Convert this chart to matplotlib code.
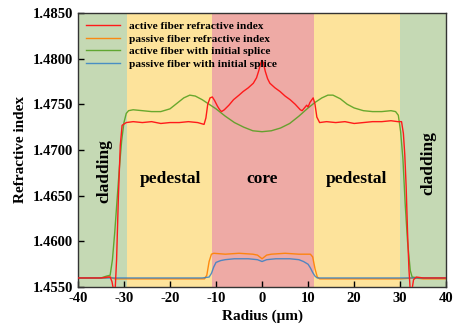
import matplotlib
matplotlib.use('Agg')
import matplotlib.pyplot as plt

plt.rcParams['font.family'] = ['Liberation Serif', 'DejaVu Serif']
plt.rcParams['font.weight'] = 'bold'
plt.rcParams['axes.labelweight'] = 'bold'
plt.rcParams['axes.unicode_minus'] = False

# region boundaries (radius, um)
region_edges = [-40, -29.3, -10.8, 11.2, 30.0, 40]
region_names = ['cladding', 'pedestal', 'core', 'pedestal', 'cladding']
region_colors = ['#c5d9b4', '#fde39b', '#eeaaa5', '#fde39b', '#c5d9b4']

# active fiber refractive index
red_x = [-40, -35, -33.5, -33, -32.6, -32.2, -31.9, -31.6, -31.2, -30.8, -30.4, -29.5,
         -28, -26, -24, -22, -20, -18, -16, -14, -12.6, -12.2, -11.8, -11.3, -10.8,
         -10.3, -9.7, -9.2, -8.8, -8.2, -7.2, -6.2, -5, -4.1, -3, -1.9, -1.2, -0.7,
         -0.3, 0, 0.3, 0.7, 1.2, 1.7, 2.8, 3.9, 5, 6.1, 7.2, 8.3, 8.7, 9.2, 9.7, 10.0,
         10.4, 11.1, 11.5, 11.9, 12.5, 14, 16, 18, 20, 22, 24, 26, 28, 29.5, 30.3,
         30.7, 31.0, 31.3, 31.6, 31.9, 32.2, 32.6, 32.9, 33.5, 35, 40]
red_y = [1.4560, 1.4560, 1.4561, 1.4561, 1.4556, 1.4545, 1.4548, 1.4580, 1.4650, 1.4705,
         1.4727, 1.4730, 1.4731, 1.4730, 1.4731, 1.4729, 1.4730, 1.4730, 1.4731, 1.4730,
         1.4728, 1.4735, 1.4750, 1.4757, 1.4758, 1.4754, 1.4748, 1.4744, 1.4742, 1.4744,
         1.4749, 1.4755, 1.4760, 1.4764, 1.4768, 1.4773, 1.4779, 1.4787, 1.4795, 1.4798,
         1.4795, 1.4786, 1.4778, 1.4773, 1.4768, 1.4764, 1.4759, 1.4755, 1.4750, 1.4744,
         1.4743, 1.4746, 1.4749, 1.4747, 1.4752, 1.4757, 1.4750, 1.4736, 1.4730, 1.4731,
         1.4730, 1.4731, 1.4729, 1.4730, 1.4731, 1.4731, 1.4732, 1.4731, 1.4731, 1.4718,
         1.4695, 1.4660, 1.4610, 1.4570, 1.4545, 1.4548, 1.4558, 1.4561, 1.4560, 1.4560]

# passive fiber refractive index
orange_x = [-40, -34, -33, -32, -30, -25, -20, -15, -12.5, -12, -11.5, -11, -10.5, -8, -5,
            -2, -1, -0.5, 0, 0.5, 1, 2, 5, 8, 10.5, 11, 11.5, 12, 12.5, 15, 20, 25, 30,
            33, 35, 40]
orange_y = [1.4560, 1.4560, 1.4561, 1.4559, 1.4559, 1.4559, 1.4559, 1.4559, 1.4559, 1.4563,
            1.4578, 1.4586, 1.4587, 1.4586, 1.4587, 1.4586, 1.4585, 1.4583, 1.4581, 1.4583,
            1.4585, 1.4586, 1.4587, 1.4586, 1.4586, 1.4583, 1.4570, 1.4561, 1.4559, 1.4559,
            1.4559, 1.4559, 1.4559, 1.4560, 1.4559, 1.4559]

# active fiber with initial splice
green_x = [-40, -35, -33.8, -33, -32.5, -32, -31.5, -31, -30.5, -30, -29.5, -29, -28, -26,
           -24, -22, -20, -18.5, -17, -15.7, -14.5, -13, -11.5, -10, -8, -6, -4, -2, 0,
           2, 4, 6, 8, 10, 11.5, 13, 14.3, 15.4, 17, 18.5, 20, 22, 24, 26, 28, 29, 29.6,
           30.1, 30.6, 31.1, 31.6, 32.2, 32.6, 34, 40]
green_y = [1.4560, 1.4560, 1.4562, 1.4563, 1.4580, 1.4610, 1.4645, 1.4680, 1.4710, 1.4730,
           1.4740, 1.4743, 1.4744, 1.4743, 1.4742, 1.4742, 1.4745, 1.4751, 1.4757, 1.4760,
           1.4759, 1.4755, 1.4750, 1.4745, 1.4737, 1.4730, 1.4725, 1.4721, 1.4720, 1.4721,
           1.4724, 1.4729, 1.4737, 1.4746, 1.4752, 1.4757, 1.4760, 1.4760, 1.4756, 1.4750,
           1.4746, 1.4743, 1.4742, 1.4742, 1.4743, 1.4742, 1.4738, 1.4720, 1.4690, 1.4640,
           1.4600, 1.4568, 1.4561, 1.4560, 1.4560]

# passive fiber with initial splice
blue_x = [-40, -30, -20, -13, -11.5, -11, -10.5, -10, -9, -8, -6, -3, -1, -0.5, 0, 0.5, 1,
          3, 6, 8, 9, 10, 10.5, 11, 11.5, 12, 13, 20, 30, 40]
blue_y = [1.4560, 1.4560, 1.4560, 1.4560, 1.4561, 1.4565, 1.4572, 1.4577, 1.4579, 1.4580,
          1.4581, 1.4581, 1.4580, 1.4579, 1.4578, 1.4579, 1.4580, 1.4581, 1.4581, 1.4580,
          1.4578, 1.4575, 1.4571, 1.4566, 1.4562, 1.4560, 1.4560, 1.4560, 1.4560, 1.4560]

fig = plt.figure(figsize=(4.53, 3.30), dpi=100)
ax = fig.add_axes([0.172, 0.130, 0.813, 0.831])

for i in range(len(region_names)):
    ax.axvspan(region_edges[i], region_edges[i + 1], color=region_colors[i], lw=0, zorder=0)

ax.plot(red_x, red_y, color='#ff1a1a', lw=1.0, label='active fiber refractive index', zorder=3)
ax.plot(orange_x, orange_y, color='#ff8000', lw=1.0, alpha=0.9, label='passive fiber refractive index', zorder=2)
ax.plot(green_x, green_y, color='#4f9e1a', lw=1.0, alpha=0.85, label='active fiber with initial splice', zorder=2)
ax.plot(blue_x, blue_y, color='#2a7cc8', lw=1.0, alpha=0.8, label='passive fiber with initial splice', zorder=2)

# region labels
lab_fs = 12.5
ax.text(-34.3, 1.4677, 'cladding', rotation=90, ha='center', va='center', fontsize=lab_fs, fontweight='bold')
ax.text(-20, 1.4668, 'pedestal', ha='center', va='center', fontsize=lab_fs, fontweight='bold')
ax.text(0, 1.4668, 'core', ha='center', va='center', fontsize=lab_fs, fontweight='bold')
ax.text(20.5, 1.4668, 'pedestal', ha='center', va='center', fontsize=lab_fs, fontweight='bold')
ax.text(36.1, 1.4686, 'cladding', rotation=90, ha='center', va='center', fontsize=lab_fs, fontweight='bold')

ax.set_xlim(-40, 40)
ax.set_ylim(1.4550, 1.4850)
ax.set_xticks([-40, -30, -20, -10, 0, 10, 20, 30, 40])
ax.set_yticks([1.4550, 1.4600, 1.4650, 1.4700, 1.4750, 1.4800, 1.4850])
ax.set_yticklabels(['%.4f' % v for v in ax.get_yticks()])
ax.tick_params(direction='in', length=4, width=1, labelsize=10.5, top=False, right=False)
for s in ax.spines.values():
    s.set_linewidth(1.0)
    s.set_color('#333333')

ax.set_xlabel('Radius (μm)', fontsize=11, fontweight='bold', labelpad=3)
ax.set_ylabel('Refractive index', fontsize=11, fontweight='bold', labelpad=4)

leg = ax.legend(loc='upper left', frameon=False, fontsize=8.2, handlelength=3.0,
                labelspacing=0.25, borderaxespad=0.3, handletextpad=0.8)
for t in leg.get_texts():
    t.set_fontweight('bold')

fig.savefig('out.png', dpi=100)
